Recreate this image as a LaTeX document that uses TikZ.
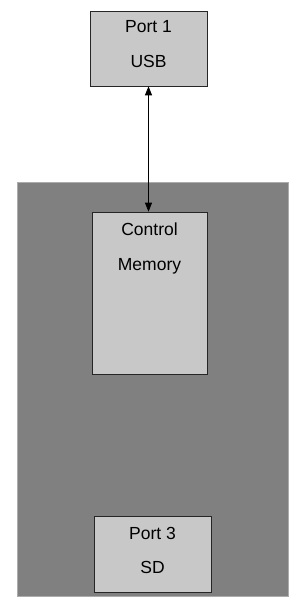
\documentclass[tikz,border=0pt]{standalone}
\usepackage{fontspec}
\setmainfont{Liberation Sans}
\usepackage{tikz}
\usetikzlibrary{arrows.meta, positioning, calc}
\definecolor{boardgray}{HTML}{808080}
\definecolor{boxgray}{HTML}{C8C8C8}

\begin{document}
\begin{tikzpicture}[x=1pt, y=-1pt,
    board/.style={rectangle, fill=boardgray, draw=gray!65, line width=0.6pt, inner sep=0pt},
    unit/.style={rectangle, fill=boxgray, draw=black!85, line width=0.7pt, inner sep=0pt},
    txt/.style={align=center, inner sep=0pt, font=\fontsize{17.5}{34.5}\selectfont}]
  \useasboundingbox (0,0) rectangle (306,614);
  % board background
  \node[board, minimum width=271pt, minimum height=414pt] (board) at (152.5,389) {};
  % the three blocks
  \node[unit, minimum width=117pt, minimum height=75pt] (port1) at (148.5,48.5) {};
  \node[unit, minimum width=115pt, minimum height=162pt] (ctrl) at (149.5,293) {};
  \node[unit, minimum width=117pt, minimum height=76pt] (port3) at (152.5,554) {};
  % texts
  \node[txt, anchor=north] (port1txt) at ([yshift=-10pt]port1.north) {Port 1\\USB};
  \node[txt, anchor=north] (ctrltxt) at ([yshift=-11pt]ctrl.north) {Control\\Memory};
  \node[txt, anchor=north] (port3txt) at ([yshift=-11pt]port3.north) {Port 3\\SD};
  % link
  \draw[{Triangle[length=9pt,width=7pt]}-{Triangle[length=9pt,width=7pt]}, line width=0.8pt]
    (port1.south) -- (port1.south |- ctrl.north);
\end{tikzpicture}
\end{document}
